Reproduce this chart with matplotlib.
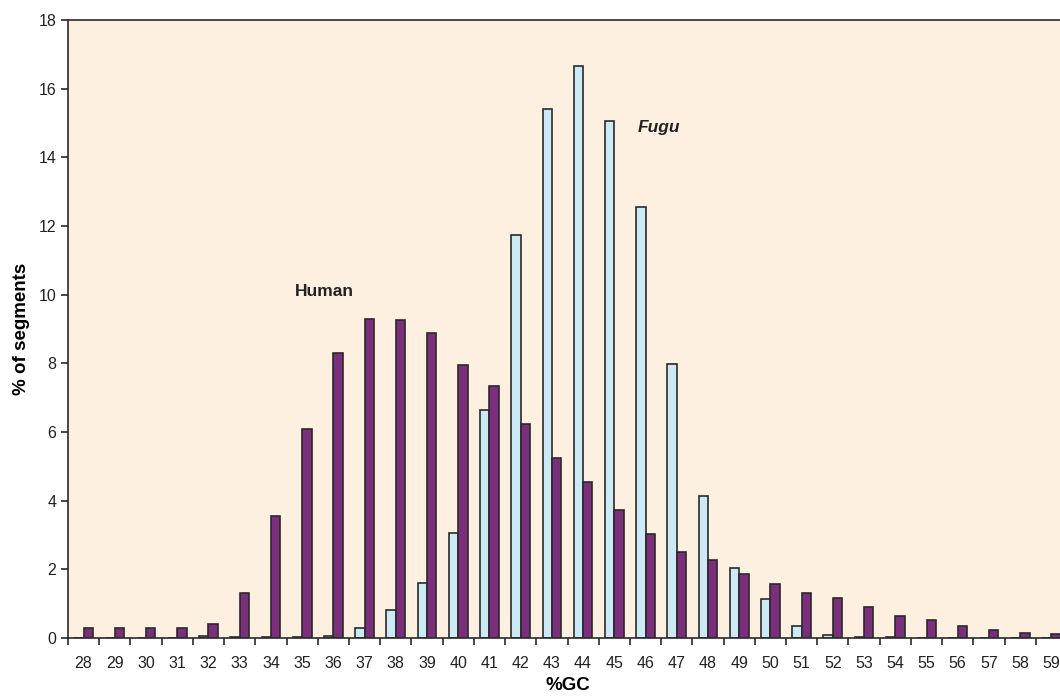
import numpy as np
import matplotlib
matplotlib.use("Agg")
import matplotlib.pyplot as plt

plt.rcParams["font.family"] = ["Liberation Sans", "DejaVu Sans"]

gc = list(range(28, 60))
fugu = [0, 0, 0, 0, 0.07, 0.02, 0.03, 0.04, 0.05, 0.30, 0.82, 1.60, 3.07, 6.65,
        11.75, 15.40, 16.65, 15.05, 12.55, 7.98, 4.15, 2.05, 1.13, 0.35, 0.08,
        0.02, 0.02, 0, 0, 0, 0, 0]
human = [0.30, 0.30, 0.29, 0.29, 0.40, 1.30, 3.55, 6.10, 8.30, 9.28, 9.27, 8.88,
         7.95, 7.35, 6.22, 5.25, 4.55, 3.72, 3.03, 2.50, 2.27, 1.85, 1.56, 1.31,
         1.17, 0.91, 0.65, 0.51, 0.35, 0.24, 0.16, 0.11]

bg = "#FEF0E0"
blue = "#CBEAF6"
purple = "#7B2E7C"
edge = "#2A2A2A"

fig = plt.figure(figsize=(10.6, 6.96), dpi=100)
ax = fig.add_axes([68 / 1060, 58 / 696, 999 / 1060, 618 / 696])
ax.set_facecolor(bg)

x = np.arange(len(gc))
w = 0.3
ax.bar(x - w / 2, fugu, width=w, color=blue, edgecolor=edge, linewidth=1.2)
ax.bar(x + w / 2, human, width=w, color=purple, edgecolor=edge, linewidth=1.2)

ax.set_xlim(-0.5, len(gc) - 0.5)
ax.set_ylim(0, 18)
ax.set_yticks(range(0, 19, 2))
ax.set_xticks(np.arange(-0.5, len(gc), 1.0))
ax.set_xticklabels([])
ax.set_xticks(x, minor=True)
ax.set_xticklabels([str(v) for v in gc], minor=True)
ax.tick_params(axis="x", which="minor", length=0, pad=13, labelsize=11.5,
               colors="#222222")
ax.tick_params(axis="x", which="major", length=5, width=1.2, color=edge)
ax.tick_params(axis="y", length=5, width=1.2, color=edge, labelsize=11.5,
               labelcolor="#222222")
for s in ax.spines.values():
    s.set_color(edge)
    s.set_linewidth(1.2)

ax.set_ylabel("% of segments", fontsize=13.5, fontweight="bold", labelpad=6)
ax.set_xlabel("%GC", fontsize=13.5, fontweight="bold", labelpad=4)

ax.text(7.7, 10.08, "Human", fontsize=12.5, fontweight="bold", ha="center",
        va="center", color="#222222")
ax.text(18.43, 14.88, "Fugu", fontsize=12.5, fontweight="bold", style="italic",
        ha="center", va="center", color="#222222")

fig.savefig("out.png", dpi=100)
